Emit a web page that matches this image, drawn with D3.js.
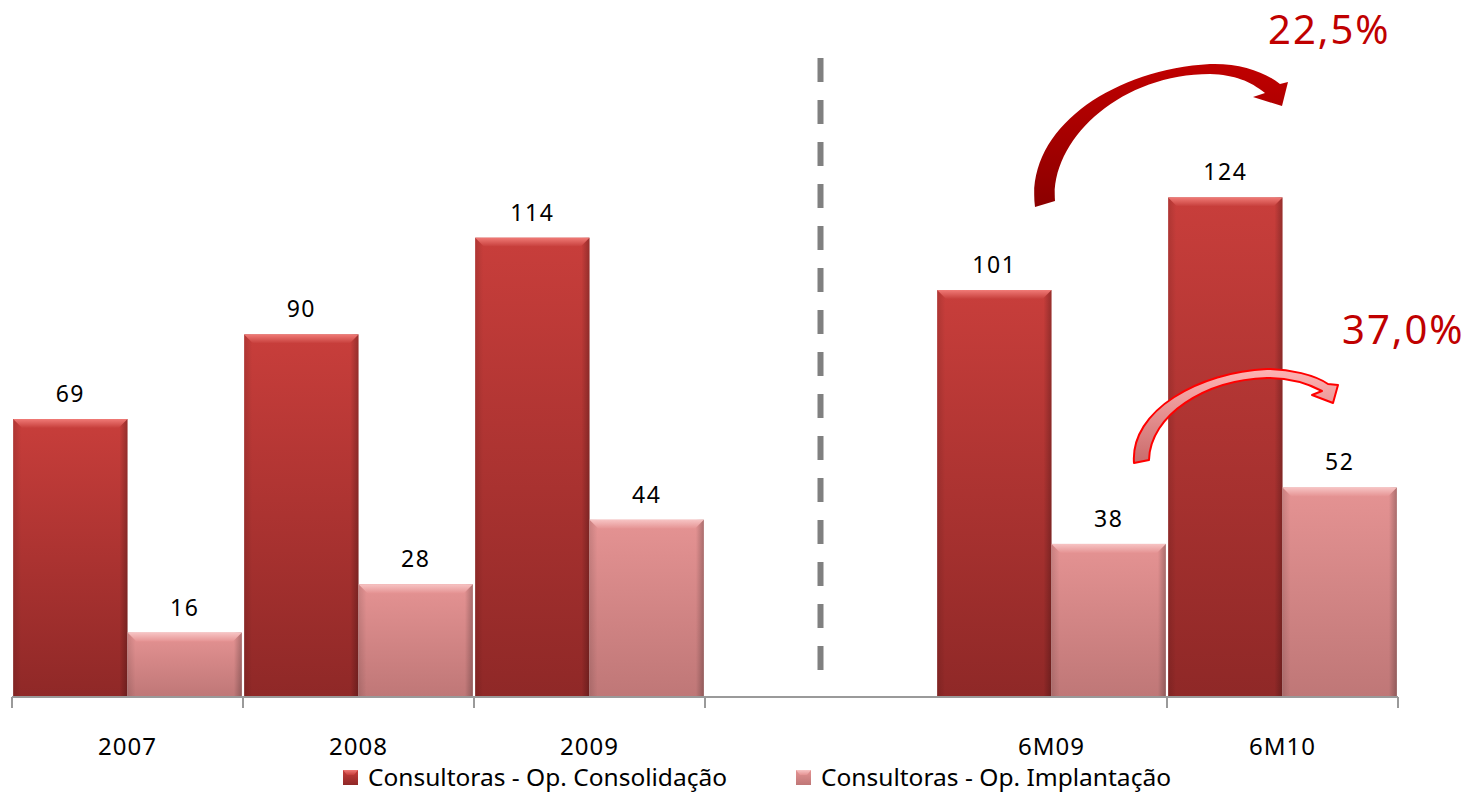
<!DOCTYPE html>
<html>
<head>
<meta charset="utf-8">
<script src="https://cdn.jsdelivr.net/npm/d3@7"></script>
<style>
  body { margin: 0; background: #fff; }
  text { font-family: "Noto Sans", sans-serif; }
</style>
</head>
<body>
<div id="chart"></div>
<script>
// data
var categories = ["2007", "2008", "2009", "", "6M09", "6M10"];
var consolidacao = [69, 90, 114, null, 101, 124];
var implantacao = [16, 28, 44, null, 38, 52];
var seriesNames = ["Consultoras - Op. Consolidação", "Consultoras - Op. Implantação"];
var growthLabels = ["22,5%", "37,0%"];

var W = 1468, H = 792;
var x0 = 12, x1 = 1398, baseY = 697;

var svg = d3.select("#chart").append("svg")
  .attr("width", W).attr("height", H);

// gradients
var defs = svg.append("defs");
function vgrad(id, stops) {
  var g = defs.append("linearGradient").attr("id", id)
    .attr("x1", 0).attr("y1", 0).attr("x2", 0).attr("y2", 1);
  stops.forEach(function(s) {
    g.append("stop").attr("offset", s[0]).attr("stop-color", s[1]);
  });
}
vgrad("gRed", [[0, "#c83e3b"], [1, "#8f2827"]]);
vgrad("gPink", [[0, "#e59393"], [1, "#bf7777"]]);
vgrad("gRedTop", [[0, "#f07a76"], [1, "#c63e3b"]]);
vgrad("gPinkTop", [[0, "#f7c4c4"], [1, "#e59393"]]);
vgrad("gArrow1", [[0, "#c00000"], [1, "#8b0000"]]);
vgrad("gArrow2", [[0, "#ffb3b3"], [1, "#c96b6b"]]);
var hg = defs.append("linearGradient").attr("id", "gSide")
  .attr("x1", 0).attr("y1", 0).attr("x2", 1).attr("y2", 0);
hg.append("stop").attr("offset", 0).attr("stop-color", "#000").attr("stop-opacity", 0.12);
hg.append("stop").attr("offset", 0.07).attr("stop-color", "#000").attr("stop-opacity", 0);
hg.append("stop").attr("offset", 0.93).attr("stop-color", "#000").attr("stop-opacity", 0);
hg.append("stop").attr("offset", 1).attr("stop-color", "#000").attr("stop-opacity", 0.25);

// scales
var x = d3.scaleBand().domain(categories.map(function(d, i) { return i; }))
  .range([x0, x1]).paddingInner(0).paddingOuter(0);
var xs = d3.scaleBand().domain([0, 1]).range([0, x.bandwidth()]).paddingOuter(0.01).paddingInner(0);
var y = d3.scaleLinear().domain([0, 173]).range([baseY, 0]);

// dashed separator between the two periods
var sepX = x(3) + x.bandwidth() / 2;
svg.append("line")
  .attr("x1", sepX).attr("x2", sepX)
  .attr("y1", 58).attr("y2", 672)
  .attr("stroke", "#808080").attr("stroke-width", 6)
  .attr("stroke-dasharray", "24,18");

// bars
var series = [
  {name: seriesNames[0], values: consolidacao, fill: "url(#gRed)", top: "url(#gRedTop)"},
  {name: seriesNames[1], values: implantacao, fill: "url(#gPink)", top: "url(#gPinkTop)"}
];

series.forEach(function(s, si) {
  var data = s.values.map(function(v, i) { return {i: i, v: v}; })
    .filter(function(d) { return d.v != null; });
  var g = svg.append("g");
  var bx = function(d) { return x(d.i) + xs(si); };
  var bw = xs.bandwidth();

  g.selectAll("rect.body").data(data).enter().append("rect")
    .attr("class", "body")
    .attr("x", bx).attr("y", function(d) { return y(d.v); })
    .attr("width", bw).attr("height", function(d) { return baseY - y(d.v); })
    .attr("fill", s.fill);
  g.selectAll("rect.side").data(data).enter().append("rect")
    .attr("class", "side")
    .attr("x", bx).attr("y", function(d) { return y(d.v); })
    .attr("width", bw).attr("height", function(d) { return baseY - y(d.v); })
    .attr("fill", "url(#gSide)");
  // bevel on top
  g.selectAll("path.bevel").data(data).enter().append("path")
    .attr("class", "bevel")
    .attr("d", function(d) {
      var l = bx(d), t = y(d.v), r = l + bw, b = 9;
      return "M" + l + "," + t + "L" + r + "," + t + "L" + (r - b) + "," + (t + b) +
        "L" + (l + b) + "," + (t + b) + "Z";
    })
    .attr("fill", s.top);
  g.selectAll("text").data(data).enter().append("text")
    .attr("x", function(d) { return bx(d) + bw / 2; })
    .attr("y", function(d) { return y(d.v) - 17; })
    .attr("text-anchor", "middle")
    .attr("font-size", 23)
    .attr("letter-spacing", 1.5)
    .attr("fill", "#000")
    .text(function(d) { return d.v; });
});

// axis line with boundary ticks
var ax = svg.append("g").attr("stroke", "#9a9a9a").attr("stroke-width", 2);
ax.append("line").attr("x1", x0).attr("x2", x1).attr("y1", baseY).attr("y2", baseY);
var bounds = d3.range(categories.length + 1).filter(function(k) { return k !== 4; });
ax.selectAll("line.tick").data(bounds).enter().append("line")
  .attr("x1", function(k) { return x0 + k * x.bandwidth(); })
  .attr("x2", function(k) { return x0 + k * x.bandwidth(); })
  .attr("y1", baseY).attr("y2", baseY + 11);

// category labels
svg.selectAll("text.cat").data(categories).enter().append("text")
  .attr("class", "cat")
  .attr("x", function(d, i) { return x(i) + x.bandwidth() / 2; })
  .attr("y", 755)
  .attr("text-anchor", "middle")
  .attr("font-size", 24)
  .attr("letter-spacing", 1)
  .text(function(d) { return d; });

// legend
var legX = [343, 796];
var leg = svg.selectAll("g.leg").data(series).enter().append("g")
  .attr("class", "leg")
  .attr("transform", function(d, i) { return "translate(" + legX[i] + ",770)"; });
leg.append("rect").attr("width", 15).attr("height", 15)
  .attr("fill", function(d) { return d.fill; });
leg.append("path").attr("d", "M0,0L15,0L11,5L4,5Z")
  .attr("fill", function(d) { return d.top; });
leg.append("text").attr("x", 25).attr("y", 16)
  .attr("font-size", 23)
  .attr("textLength", function(d, i) { return i === 0 ? 359 : 350; })
  .attr("lengthAdjust", "spacingAndGlyphs")
  .text(function(d) { return d.name; });

// growth arrows, anchored on the 6M10 band
var ox = x(5);
var big = "M" + (ox - 132) + "," + 207 +
  " C" + (ox - 142) + ",130 " + (ox - 57) + ",70 " + (ox + 43) + ",64" +
  " C" + (ox + 73) + ",63 " + (ox + 98) + ",72 " + (ox + 113) + ",84" +
  " L" + (ox + 121) + ",82 L" + (ox + 115) + ",106 L" + (ox + 86) + ",97" +
  " L" + (ox + 98) + ",93" +
  " C" + (ox + 83) + ",81 " + (ox + 68) + ",75 " + (ox + 43) + ",74" +
  " C" + (ox - 47) + ",74 " + (ox - 117) + ",140 " + (ox - 112) + ",201 Z";
svg.append("path").attr("d", big).attr("fill", "url(#gArrow1)");

var small = "M" + (ox - 33) + ",463" +
  " C" + (ox - 37) + ",410 " + (ox + 33) + ",372 " + (ox + 100) + ",369" +
  " C" + (ox + 123) + ",369 " + (ox + 148) + ",375 " + (ox + 161) + ",384" +
  " L" + (ox + 171) + ",385 L" + (ox + 166) + ",403 L" + (ox + 145) + ",395" +
  " L" + (ox + 155) + ",391" +
  " C" + (ox + 138) + ",382 " + (ox + 120) + ",378 " + (ox + 100) + ",378" +
  " C" + (ox + 38) + ",380 " + (ox - 17) + ",415 " + (ox - 18) + ",460 Z";
svg.append("path").attr("d", small).attr("fill", "url(#gArrow2)")
  .attr("stroke", "#ff0000").attr("stroke-width", 2).attr("stroke-linejoin", "round");

svg.append("text").attr("x", ox + 101).attr("y", 44)
  .attr("font-size", 40).attr("letter-spacing", 2).attr("fill", "#c00000")
  .text(growthLabels[0]);
svg.append("text").attr("x", ox + 175).attr("y", 344)
  .attr("font-size", 40).attr("letter-spacing", 2).attr("fill", "#c00000")
  .text(growthLabels[1]);
</script>
</body>
</html>
